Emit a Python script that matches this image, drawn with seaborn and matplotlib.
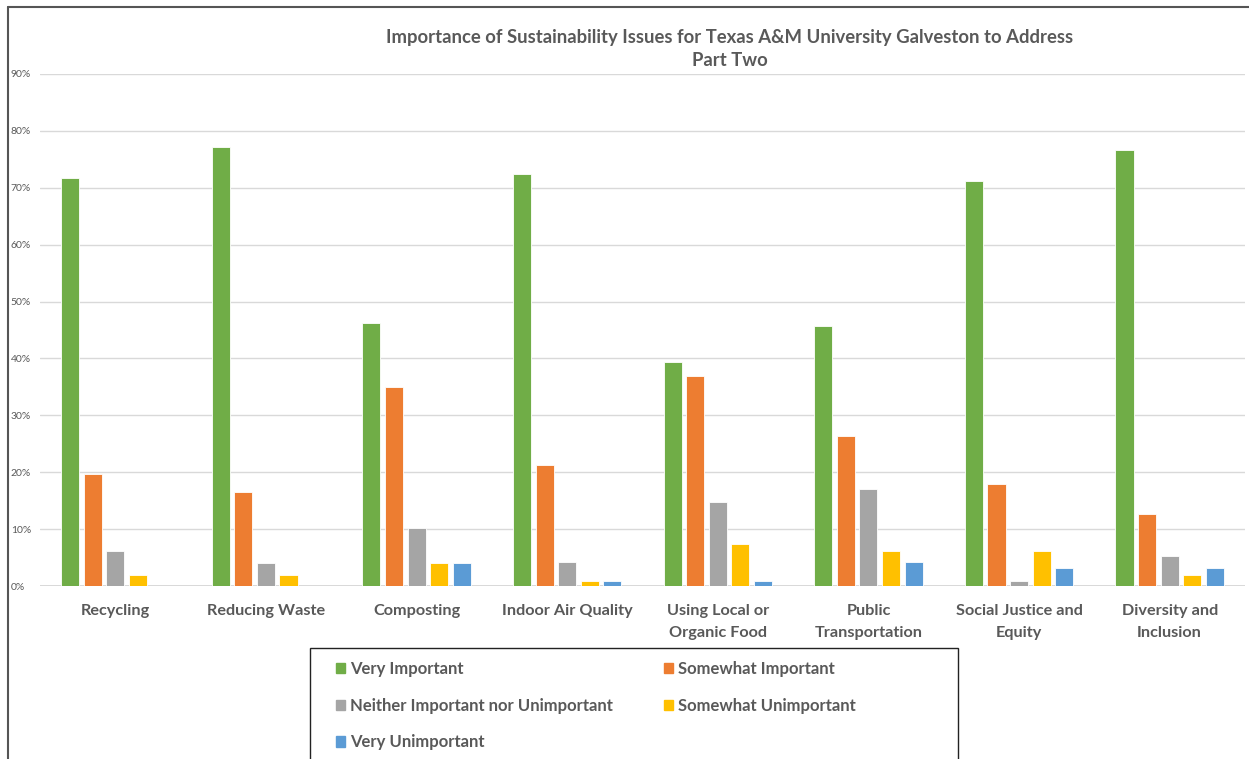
import matplotlib
matplotlib.use("Agg")
import matplotlib.pyplot as plt
from matplotlib.lines import Line2D
from matplotlib.patches import Rectangle
from matplotlib.ticker import PercentFormatter
import pandas as pd
import seaborn as sns

# Survey categories (x axis)
issues = [
    "Recycling",
    "Reducing Waste",
    "Composting",
    "Indoor Air Quality",
    "Using Local or\nOrganic Food",
    "Public\nTransportation",
    "Social Justice and\nEquity",
    "Diversity and\nInclusion",
]

# Response shares per rating (fractions of respondents)
very_important = [0.718, 0.772, 0.463, 0.724, 0.393, 0.457, 0.712, 0.766]
somewhat_important = [0.196, 0.165, 0.349, 0.213, 0.370, 0.264, 0.180, 0.126]
neither = [0.062, 0.040, 0.102, 0.042, 0.148, 0.170, 0.009, 0.052]
somewhat_unimportant = [0.019, 0.019, 0.040, 0.009, 0.074, 0.062, 0.062, 0.019]
very_unimportant = [0.0, 0.0, 0.040, 0.009, 0.009, 0.042, 0.032, 0.032]

ratings = [
    "Very Important",
    "Somewhat Important",
    "Neither Important nor Unimportant",
    "Somewhat Unimportant",
    "Very Unimportant",
]
series = [very_important, somewhat_important, neither, somewhat_unimportant, very_unimportant]
colors = ["#70AD47", "#ED7D31", "#A5A5A5", "#FFC000", "#5B9BD5"]

rows = []
for rating, values in zip(ratings, series):
    for issue, v in zip(issues, values):
        rows.append({"Issue": issue, "Rating": rating, "Share": v})
df = pd.DataFrame(rows)

sns.set_theme(style="white")
plt.rcParams["font.family"] = ["Lato", "DejaVu Sans"]
text_color = "#595959"

fig = plt.figure(figsize=(12.49, 7.59), dpi=100)
W, H = 1249, 759
ax = fig.add_axes([40 / W, 1 - 586 / H, (1245 - 40) / W, (586 - 74) / H])

sns.barplot(
    data=df, x="Issue", y="Share", hue="Rating",
    order=issues, hue_order=ratings, palette=colors, saturation=1,
    width=0.75, gap=0.2, edgecolor="white", linewidth=0.6,
    errorbar=None, ax=ax, legend=False, zorder=3,
)

ax.set_ylim(0, 0.9)
ax.set_xlim(-0.5, len(issues) - 0.5)
ax.set_yticks([i / 10 for i in range(10)])
ax.yaxis.set_major_formatter(PercentFormatter(1.0, decimals=0))
ax.yaxis.grid(True, color="#D9D9D9", linewidth=1.0, zorder=0)
ax.set_axisbelow(True)
for s in ax.spines.values():
    s.set_visible(False)
ax.axhline(0, color="#D9D9D9", linewidth=1.4, zorder=1)
ax.set_xlabel("")
ax.set_ylabel("")
ax.tick_params(axis="y", length=0, pad=21, labelsize=7.5, labelcolor=text_color)
ax.tick_params(axis="x", length=0, pad=13, labelsize=11.7, labelcolor=text_color)
for lbl in ax.get_xticklabels():
    lbl.set_fontweight("bold")
    lbl.set_linespacing(1.68)
for lbl in ax.get_yticklabels():
    lbl.set_horizontalalignment("left")

# Title
fig.text(730 / W, 1 - 38 / H,
         "Importance of Sustainability Issues for Texas A&M University Galveston to Address",
         ha="center", va="center", fontsize=13.3, fontweight="bold", color=text_color)
fig.text(730 / W, 1 - 61 / H, "Part Two",
         ha="center", va="center", fontsize=13.3, fontweight="bold", color=text_color)

# Legend box (runs past the lower edge of the figure)
fig.add_artist(Rectangle((310 / W, -0.05), (958 - 310) / W, (1 - 648 / H) + 0.05,
                         transform=fig.transFigure, facecolor="white",
                         edgecolor="#222222", linewidth=1.0, zorder=1))

# Legend entries (row-major order in two columns)
handles = {r: plt.Rectangle((0, 0), 1, 1, color=c) for r, c in zip(ratings, colors)}
order = [ratings[0], ratings[2], ratings[4], ratings[1], ratings[3]]
leg = fig.legend(
    [handles[r] for r in order], order, ncol=2,
    loc="upper left", bbox_to_anchor=(336 / W, 1 - 661 / H),
    frameon=False, fontsize=12,
    handlelength=0.56, handleheight=0.56, handletextpad=0.3,
    columnspacing=3.05, labelspacing=1.24, borderpad=0,
    borderaxespad=0,
)
leg.set_zorder(2)
for t in leg.get_texts():
    t.set_color(text_color)
    t.set_fontweight("bold")

# Outer chart frame
fig.add_artist(Line2D([8 / W, 8 / W], [0, 1 - 7 / H], color="#555555", linewidth=1.5))
fig.add_artist(Line2D([8 / W, 1], [1 - 7 / H, 1 - 7 / H], color="#555555", linewidth=1.5))

fig.savefig("out.png", dpi=100)
